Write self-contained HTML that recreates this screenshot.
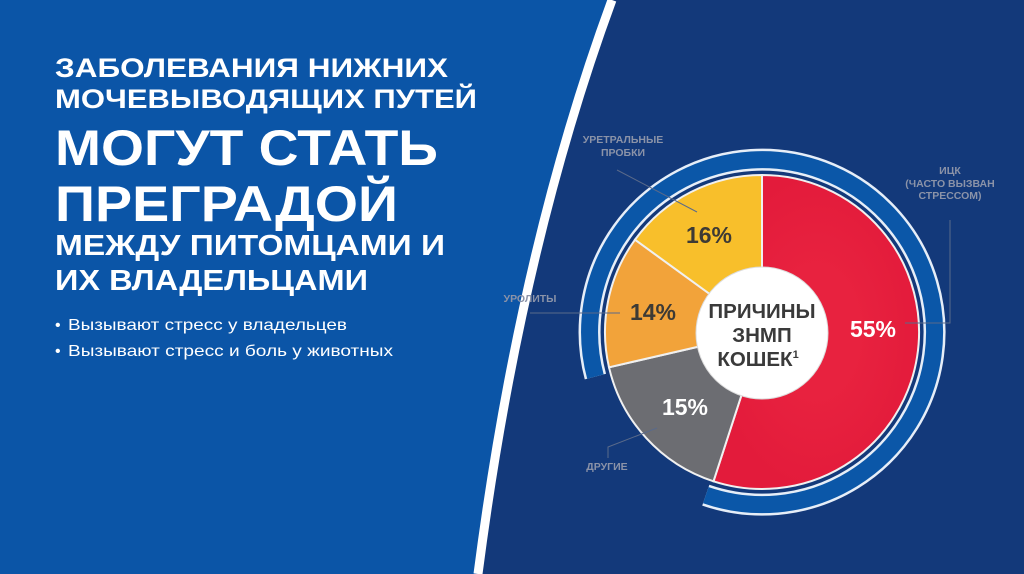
<!DOCTYPE html>
<html><head><meta charset="utf-8"><style>
html,body{margin:0;padding:0;width:1024px;height:574px;overflow:hidden;background:#123a7c}
svg{display:block}
text{font-family:"Liberation Sans","DejaVu Sans",sans-serif}
</style></head><body>
<svg width="1024" height="574" viewBox="0 0 1024 574">
<defs>
<radialGradient id="rg" cx="0.5" cy="0.5" r="0.5"><stop offset="0.4" stop-color="#e8223f"/><stop offset="1" stop-color="#e31b3b"/></radialGradient>
</defs>
<rect width="1024" height="574" fill="#13397a"/>
<path d="M0,0 L612,0 Q520,250 478,574 L0,574 Z" fill="#0b55a7"/>
<path d="M612,0 Q520,250 478,574" fill="none" stroke="#ffffff" stroke-width="9"/>
<g fill="#fff" font-weight="bold">
<text x="55" y="77" font-size="26.5" textLength="393" lengthAdjust="spacingAndGlyphs">ЗАБОЛЕВАНИЯ НИЖНИХ</text>
<text x="55" y="108" font-size="26.5" textLength="422" lengthAdjust="spacingAndGlyphs">МОЧЕВЫВОДЯЩИХ ПУТЕЙ</text>
<text x="55" y="165" font-size="50" textLength="383" lengthAdjust="spacingAndGlyphs">МОГУТ СТАТЬ</text>
<text x="55" y="221" font-size="50" textLength="343" lengthAdjust="spacingAndGlyphs">ПРЕГРАДОЙ</text>
<text x="55" y="255" font-size="29" textLength="390" lengthAdjust="spacingAndGlyphs">МЕЖДУ ПИТОМЦАМИ И</text>
<text x="55" y="290" font-size="29" textLength="313" lengthAdjust="spacingAndGlyphs">ИХ ВЛАДЕЛЬЦАМИ</text>
</g>
<g fill="#fff" font-size="16">
<text x="55" y="330">•</text><text x="68" y="330" textLength="279" lengthAdjust="spacingAndGlyphs">Вызывают стресс у владельцев</text>
<text x="55" y="356">•</text><text x="68" y="356" textLength="325" lengthAdjust="spacingAndGlyphs">Вызывают стресс и боль у животных</text>
</g>
<path d="M 595.4,376.6 A 172.5 172.5 0 1 1 705.8,495.2" fill="none" stroke="#e6eef8" stroke-width="22"/>
<path d="M 595.4,376.6 A 172.5 172.5 0 1 1 705.8,495.2" fill="none" stroke="#0b57a8" stroke-width="17"/>
<g stroke="#f0f0f0" stroke-width="2">
<path d="M762,332 L762,175 A157 157 0 1 1 713.5,481.3 Z" fill="url(#rg)"/>
<path d="M762,332 L713.5,481.3 A157 157 0 0 1 609,367.3 Z" fill="#6c6d72"/>
<path d="M762,332 L609,367.3 A157 157 0 0 1 635,239.7 Z" fill="#f2a33a"/>
<path d="M762,332 L635,239.7 A157 157 0 0 1 762,175 Z" fill="#f8bf2b"/>
</g>
<circle cx="762" cy="333" r="66" fill="#fff" stroke="#ddd" stroke-width="1"/>
<g font-weight="bold" text-anchor="middle">
<text x="762" y="318" font-size="20.5" fill="#3a3a3a">ПРИЧИНЫ</text>
<text x="762" y="342" font-size="20.5" fill="#3a3a3a">ЗНМП</text>
<text x="758" y="366" font-size="20.5" fill="#3a3a3a">КОШЕК<tspan font-size="11" dy="-8">1</tspan></text>
<text x="873" y="337" font-size="23" fill="#fff">55%</text>
<text x="709" y="243" font-size="23" fill="#3d3a35">16%</text>
<text x="653" y="320" font-size="23" fill="#3d3a35">14%</text>
<text x="685" y="415" font-size="23" fill="#fff">15%</text>
</g>
<g font-weight="bold" font-size="10.5" fill="#8b93a8" text-anchor="middle">
<text x="623" y="143">УРЕТРАЛЬНЫЕ</text>
<text x="623" y="156">ПРОБКИ</text>
<text x="950" y="174">ИЦК</text>
<text x="950" y="187">(ЧАСТО ВЫЗВАН</text>
<text x="950" y="199">СТРЕССОМ)</text>
<text x="530" y="302">УРОЛИТЫ</text>
<text x="607" y="470">ДРУГИЕ</text>
</g>
<g stroke="#5a6a8a" stroke-width="1" fill="none">
<path d="M617,170 L697,212"/>
<path d="M950,220 L950,323 L905,323"/>
<path d="M530,313 L620,313"/>
<path d="M608,458 L608,447 L657,428"/>
</g>
</svg>
</body></html>
